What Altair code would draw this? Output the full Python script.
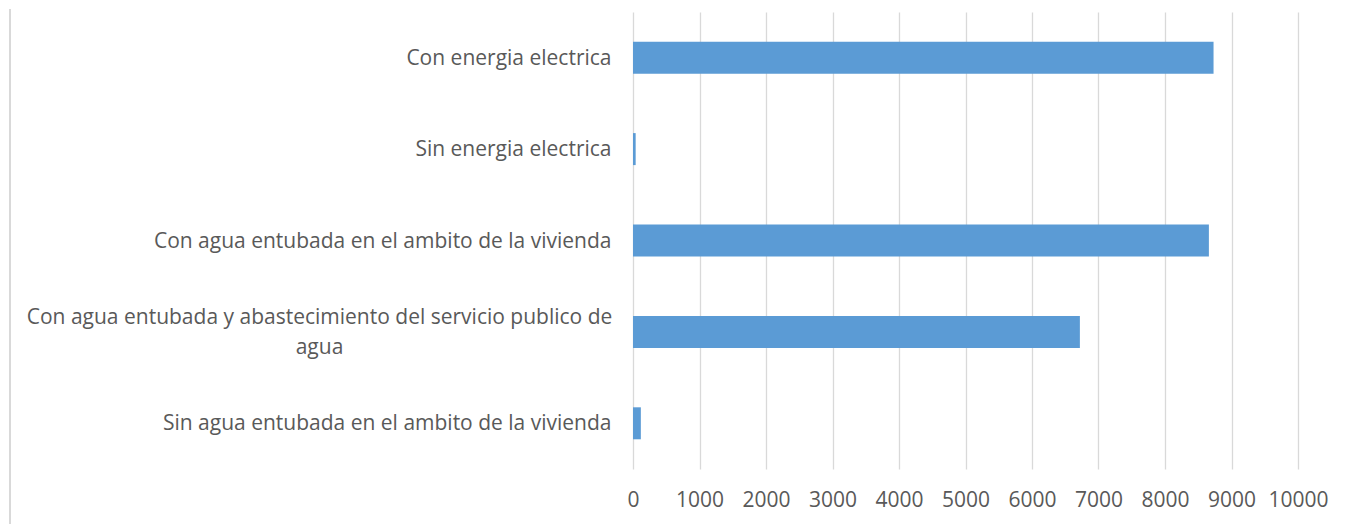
import altair as alt
import pandas as pd
import json

categories = [
    ["Con energia electrica"],
    ["Sin energia electrica"],
    ["Con agua entubada en el ambito de la vivienda"],
    ["Con agua entubada y abastecimiento del servicio publico de", "agua"],
    ["Sin agua entubada en el ambito de la vivienda"],
]
values = [8730, 40, 8660, 6720, 118]
x_ticks = [0, 1000, 2000, 3000, 4000, 5000, 6000, 7000, 8000, 9000, 10000]

keys = ["c%d" % i for i in range(len(categories))]
df = pd.DataFrame({"key": keys, "value": values})

label_expr = " : ".join(
    ["datum.value == %s ? %s" % (json.dumps(k), json.dumps(lab)) for k, lab in zip(keys, categories)]
) + " : ''"
multi_test = " || ".join("datum.value == %s" % json.dumps(k) for k, lab in zip(keys, categories) if len(lab) > 1)

FONT = "Open Sans"
TXT = "#595959"
W, H = 665, 457

bars = alt.Chart(df).mark_bar(color="#5B9BD5").encode(
    x=alt.X("value:Q",
            scale=alt.Scale(domain=[0, 10000], nice=False),
            axis=alt.Axis(values=x_ticks, title=None, domain=False, ticks=False, format="d",
                          grid=True, gridColor="#d9d9d9", gridWidth=1.3,
                          labelFont=FONT, labelFontSize=21, labelColor=TXT,
                          labelPadding=20, labelFlush=False)),
    y=alt.Y("key:N", sort=keys,
            scale=alt.Scale(paddingInner=0.65, paddingOuter=0.325),
            axis=alt.Axis(title=None, domain=False, ticks=False, grid=False,
                          labelExpr=label_expr, labelLimit=1000,
                          labelAlign={"condition": {"test": multi_test, "value": "center"}, "value": "right"},
                          labelPadding={"condition": {"test": multi_test, "value": 314}, "value": 22},
                          labelOffset={"condition": {"test": multi_test, "value": -14}, "value": 1},
                          labelFont=FONT, labelFontSize=21, labelColor=TXT,
                          labelLineHeight=30)),
)

border = alt.Chart(df).mark_rule(color="#d9d9d9", strokeWidth=1.5).encode(
    x=alt.value(-623), y=alt.value(-3), y2=alt.value(H + 60)
)

chart = alt.layer(bars, border).properties(
    width=W, height=H, padding={"top": 0, "left": 1, "right": 5, "bottom": 0}
).configure_view(stroke=None)

chart.save("out.html", embed_options={"renderer": "svg", "actions": False})
